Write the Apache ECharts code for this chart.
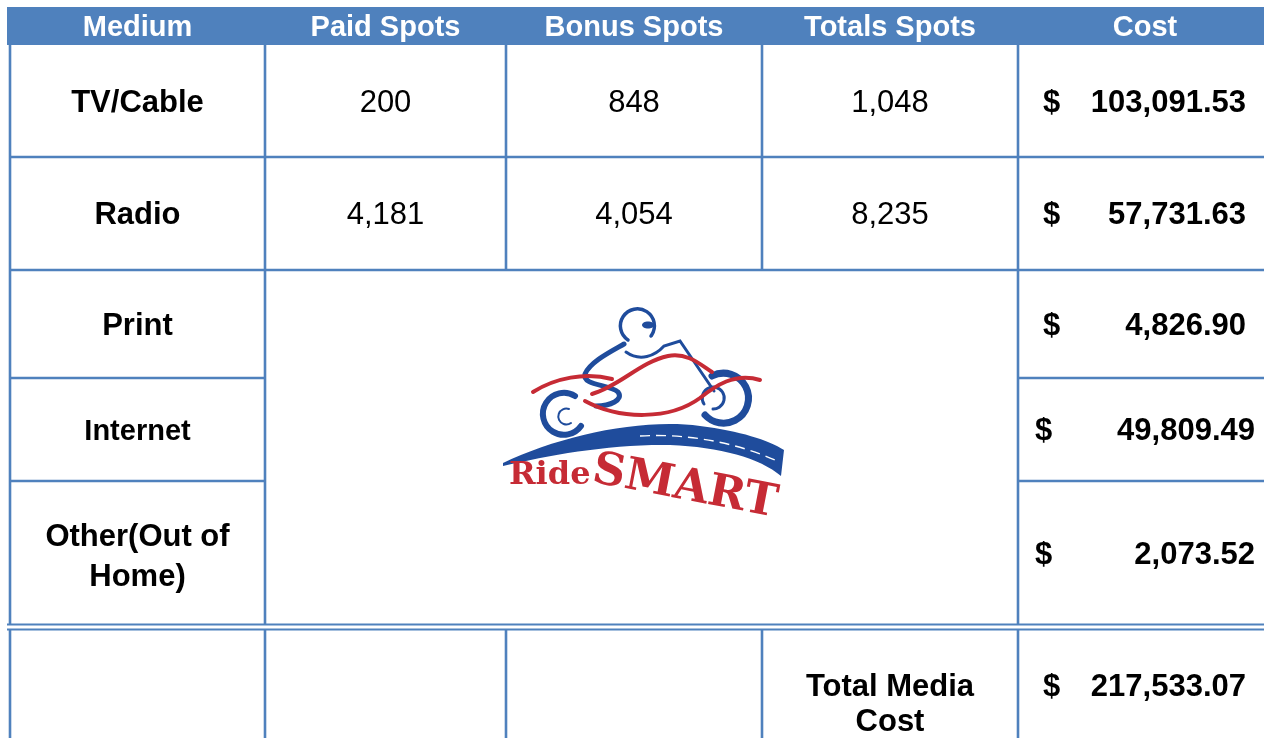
<!DOCTYPE html>
<html>
<head>
<meta charset="utf-8">
<script src="https://cdn.jsdelivr.net/npm/echarts@6/dist/echarts.min.js"></script>
<style>
  html, body { margin: 0; padding: 0; background: #fff; }
  #main { width: 1264px; height: 738px; }
</style>
</head>
<body>
<div id="main"></div>
<script>
// table content
var headers = ["Medium", "Paid Spots", "Bonus Spots", "Totals Spots", "Cost"];
var media = ["TV/Cable", "Radio", "Print", "Internet", "Other(Out of\nHome)"];
var paidSpots = [200, 4181];
var bonusSpots = [848, 4054];
var totalSpots = [1048, 8235];
var costs = [103091.53, 57731.63, 4826.90, 49809.49, 2073.52];
var totalLabel = "Total Media\nCost";
var totalCost = 217533.07;

// geometry (axis units == px)
var colX = [10, 265, 506, 762, 1018, 1272];
var rowY = [7, 45, 157, 270, 378, 481, 625];
var totalTop = 629, totalBottom = 760;
var BLUE = "#4F81BD";
var FONT = '"Liberation Sans", Arial, sans-serif';
var mediaSize = [31, 31, 31, 29, 31];
var dollarX = [1043, 1043, 1043, 1035, 1035];
var amountX = [1246, 1246, 1246, 1255, 1255];
var TEXT_DY = 2;

function colMid(i) { return (colX[i] + colX[i + 1]) / 2; }
function rowMid(i) { return (rowY[i] + rowY[i + 1]) / 2; }
function fmt(n) { return n.toLocaleString("en-US"); }
function money(n) { return n.toLocaleString("en-US", { minimumFractionDigits: 2, maximumFractionDigits: 2 }); }

// text cells
var cells = [];
function addCell(x, y, text, font, align, color, lh) {
  cells.push({ x: x, y: y + TEXT_DY, text: text, font: font, align: align || "center", color: color || "#000", lh: lh || 36 });
}
headers.forEach(function (h, i) {
  addCell(colMid(i), 26, h, "bold 29px " + FONT, "center", "#fff");
});
media.forEach(function (m, r) {
  var y = rowMid(r + 1);
  addCell(colMid(0), y + (r === 4 ? 2 : 0), m, "bold " + mediaSize[r] + "px " + FONT, "center", "#000", 40);
  if (paidSpots[r] != null) addCell(colMid(1), y, fmt(paidSpots[r]), "31px " + FONT);
  if (bonusSpots[r] != null) addCell(colMid(2), y, fmt(bonusSpots[r]), "31px " + FONT);
  if (totalSpots[r] != null) addCell(colMid(3), y, fmt(totalSpots[r]), "31px " + FONT);
  addCell(dollarX[r], y, "$", "bold 31px " + FONT, "left");
  addCell(amountX[r], y, money(costs[r]), "bold 31px " + FONT, "right");
});
addCell(colMid(3), 702.5, totalLabel, "bold 31px " + FONT, "center", "#000", 35);
addCell(1043, 685, "$", "bold 31px " + FONT, "left");
addCell(1246, 685, money(totalCost), "bold 31px " + FONT, "right");

// grid lines [x1, y1, x2, y2, width]
var lines = [];
[10, 265, 1018].forEach(function (x) { lines.push([x, 45, x, 625, 2.6]); });
[506, 762].forEach(function (x) { lines.push([x, 45, x, 270, 2.6]); });
[10, 265, 506, 762, 1018].forEach(function (x) { lines.push([x, totalTop, x, totalBottom, 2.6]); });
[157, 270].forEach(function (y) { lines.push([colX[0], y, 1272, y, 2.6]); });
[378, 481].forEach(function (y) {
  lines.push([colX[0], y, colX[1], y, 2.6]);
  lines.push([colX[4], y, 1272, y, 2.6]);
});
lines.push([7, 624.5, 1272, 624.5, 1.8]);
lines.push([7, 629.5, 1272, 629.5, 1.8]);

var chart = echarts.init(document.getElementById("main"));
chart.setOption({
  animation: false,
  grid: { left: 0, right: 0, top: 0, bottom: 0 },
  xAxis: { type: "value", min: 0, max: 1264, show: false },
  yAxis: { type: "value", min: 0, max: 738, inverse: true, show: false },
  series: [
    {
      // header band
      type: "custom",
      data: [[7, 7, 1272, 45]],
      renderItem: function (params, api) {
        var p0 = api.coord([api.value(0), api.value(1)]);
        var p1 = api.coord([api.value(2), api.value(3)]);
        return { type: "rect", shape: { x: p0[0], y: p0[1], width: p1[0] - p0[0], height: p1[1] - p0[1] }, style: { fill: BLUE } };
      }
    },
    {
      type: "custom",
      data: lines,
      renderItem: function (params, api) {
        var a = api.coord([api.value(0), api.value(1)]);
        var b = api.coord([api.value(2), api.value(3)]);
        return { type: "line", shape: { x1: a[0], y1: a[1], x2: b[0], y2: b[1] }, style: { stroke: BLUE, lineWidth: api.value(4) } };
      }
    },
    {
      type: "custom",
      data: cells.map(function (c) { return [c.x, c.y]; }),
      renderItem: function (params, api) {
        var c = cells[params.dataIndex];
        var p = api.coord([api.value(0), api.value(1)]);
        return {
          type: "text", x: p[0], y: p[1],
          style: { text: c.text, font: c.font, fill: c.color, align: c.align, verticalAlign: "middle", lineHeight: c.lh }
        };
      }
    },
    {
      // Ride SMART logo (decoration)
      type: "custom",
      data: [[640, 400]],
      renderItem: function (params, api) {
        var lb = "#1F4C9C", lr = "#C62B35";
        function stroke(d, w, c) { return { type: "path", shape: { pathData: d }, style: { fill: "none", stroke: c, lineWidth: w, lineCap: "round" } }; }
        return {
          type: "group",
          children: [
            { type: "path", shape: { pathData: "M503,463 C560,436 640,418 700,426 C740,431 768,440 784,450 L781,476 C760,458 720,447 670,445 C610,444 550,455 503,466 Z" }, style: { fill: lb } },
            { type: "path", shape: { pathData: "M640,436 C690,433 740,444 777,461" }, style: { fill: "none", stroke: "#fff", lineWidth: 1.4, lineDash: [10, 6] } },
            stroke("M575,396 A21,21 0 1 0 581,426", 6, lb),
            stroke("M569,409 A8,8 0 1 0 571,423", 2, lb),
            stroke("M712,376 A25,25 0 1 1 705,415", 7, lb),
            stroke("M704,404 A11,11 0 1 1 713,409", 3, lb),
            stroke("M628,340 A17,17 0 1 1 651,336", 3.5, lb),
            { type: "ellipse", shape: { cx: 648, cy: 325, rx: 6, ry: 3.5 }, style: { fill: lb } },
            stroke("M624,344 C610,352 590,362 585,374 C582,386 610,384 618,392 C624,400 610,406 596,406", 5, lb),
            stroke("M626,352 C640,362 655,356 664,346 L680,341 L714,391", 3, lb),
            stroke("M533,392 C555,378 585,372 612,379", 4, lr),
            stroke("M592,394 C620,386 640,362 668,356 C688,352 702,366 712,372", 4, lr),
            stroke("M585,401 C620,420 670,420 700,398 C715,386 735,372 760,380", 4, lr),
            { type: "text", x: 509, y: 476, style: { text: "Ride", font: 'bold 32px "DejaVu Serif", serif', fill: lr, align: "left", verticalAlign: "middle" } },
            { type: "text", x: 593, y: 470, rotation: -0.19, style: { text: "SMART", font: 'bold 45px "DejaVu Serif", serif', fill: lr, align: "left", verticalAlign: "middle" } }
          ]
        };
      }
    }
  ]
});
window.addEventListener("resize", function () { chart.resize(); });
</script>
</body>
</html>
